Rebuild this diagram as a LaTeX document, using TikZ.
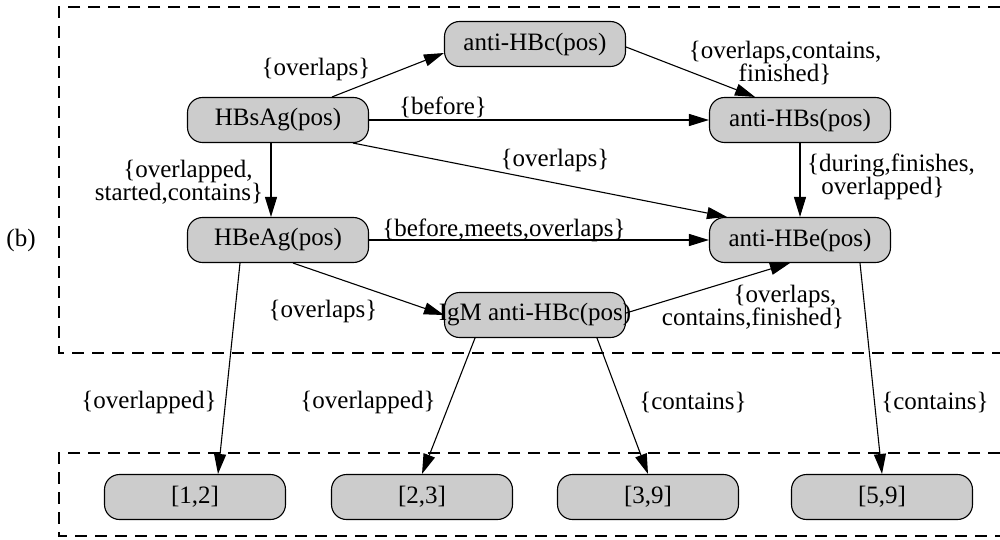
\documentclass[tikz,border=0pt]{standalone}
\usepackage{fontspec}
\setmainfont{Liberation Serif}
\usetikzlibrary{arrows.meta}
\definecolor{nodegray}{RGB}{204,204,204}
\begin{document}
\begin{tikzpicture}[x=1pt,y=-1pt,
  st/.style={draw=black,line width=1.1pt,fill=nodegray,rounded corners=15pt,minimum width=181pt,minimum height=45pt,inner sep=0pt,font=\fontsize{25}{23}\selectfont},
  lbl/.style={inner sep=0pt,align=center,font=\fontsize{25}{23}\selectfont},
  conn/.style={line width=1.1pt,-{Triangle[length=20pt,width=12pt]}},
  boxline/.style={line width=1.1pt,dash pattern=on 12pt off 8pt}]
\useasboundingbox (0,0) rectangle (1000,540);
% frames
\draw[boxline] (1000,7) -- (59,7) -- (59,353) -- (1000,353);
\draw[boxline] (1000,453) -- (59,453) -- (59,536) -- (1000,536);
% nodes
\node[st] (hbc) at (535,44) {anti-HBc(pos)};
\node[st] (hbsag) at (278,120) {HBsAg(pos)};
\node[st] (hbs) at (800,120) {anti-HBs(pos)};
\node[st] (hbeag) at (278,240) {HBeAg(pos)};
\node[st] (hbe) at (800,240) {anti-HBe(pos)};
\node[st] (igm) at (535,315) {\makebox[0pt]{IgM anti-HBc(pos)}};
\node[st] (i12) at (195,497) {[1,2]};
\node[st] (i23) at (422,497) {[2,3]};
\node[st] (i39) at (648,497) {[3,9]};
\node[st] (i59) at (882,497) {[5,9]};
\node[lbl] (b) at (21,240) {(b)};
% connectors
\draw[conn] ([xshift=54pt]hbsag.north) -- ([yshift=-9pt]hbc.west);
\draw[conn] ([yshift=-3pt]hbc.east) -- ([xshift=-45pt]hbs.north);
\draw[conn] (hbsag.east) -- (hbs.west);
\draw[conn] ([xshift=75pt]hbsag.south) -- ([xshift=-73pt]hbe.north);
\draw[conn] ([xshift=-7pt]hbsag.south) -- ([xshift=-7pt]hbeag.north);
\draw[conn] (hbs.south) -- (hbe.north);
\draw[conn] (hbeag.east) -- (hbe.west);
\draw[conn] ([xshift=15pt]hbeag.south) -- (igm.west);
\draw[conn] ([yshift=2pt]igm.east) -- ([xshift=-10pt]hbe.south);
\draw[conn] ([xshift=-38pt]hbeag.south) -- ([xshift=23pt]i12.north);
\draw[conn] ([xshift=-60pt]igm.south) -- (i23.north);
\draw[conn] ([xshift=62pt]igm.south) -- (i39.north);
\draw[conn] ([xshift=60pt]hbe.south) -- (i59.north);
% labels
\node[lbl] (l1) at (316,69) {\{overlaps\}};
\node[lbl] (l2) at (785,63) {\{overlaps,contains,\\finished\}};
\node[lbl] (l3) at (443,107) {\{before\}};
\node[lbl] (l4) at (555,160) {\{overlaps\}};
\node[lbl] (l5) at (179,182) {\hspace*{18pt}\{overlapped,\\started,contains\}};
\node[lbl] (l6) at (883,177) {\hspace*{16pt}\{during,finishes,\\overlapped\}};
\node[lbl] (l7) at (504,230) {\{before,meets,overlaps\}};
\node[lbl] (l8) at (323,311) {\{overlaps\}};
\node[lbl] (l9) at (753,307) {\hspace*{64pt}\{overlaps,\\contains,finished\}};
\node[lbl] (l10) at (149,402) {\{overlapped\}};
\node[lbl] (l11) at (368,402) {\{overlapped\}};
\node[lbl] (l12) at (693,402) {\{contains\}};
\node[lbl] (l13) at (935,402) {\{contains\}};
\end{tikzpicture}
\end{document}
